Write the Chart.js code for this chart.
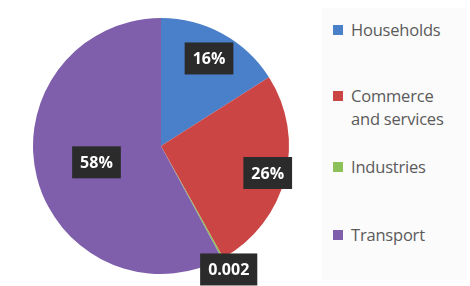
<!DOCTYPE html>
<html>
<head>
<meta charset="utf-8">
<script src="https://cdn.jsdelivr.net/npm/chart.js@4"></script>
<style>
  html, body { margin: 0; padding: 0; background: #ffffff; }
  #wrap { position: relative; width: 470px; height: 286px; }
  #pie { position: absolute; left: 0; top: 0; }
  #legend {
    position: absolute; left: 322px; top: 8px; width: 144px; height: 272px;
    background: #fbfbfb; font-family: "Open Sans", sans-serif; font-size: 16.5px;
    color: #5a5a5a;
  }
  .item { position: absolute; left: 11px; display: flex; align-items: flex-start; line-height: 23px; letter-spacing: -0.2px; }
  .sw { width: 10px; height: 10px; margin: 7px 8px 0 0; flex: none; }
</style>
</head>
<body>
<div id="wrap">
  <canvas id="pie" width="470" height="286"></canvas>
  <div id="legend"></div>
</div>
<script>
// Données
const labels = ['Households', 'Commerce and services', 'Industries', 'Transport'];
const legendLines = [['Households'], ['Commerce', 'and services'], ['Industries'], ['Transport']];
const values = [16, 26, 0.2, 58];
const valueTexts = ['16%', '26%', '0.002', '58%'];
const colors = ['#4a7fc9', '#cc4545', '#8cc058', '#7f5fab'];

// Style des étiquettes
const labelRadius = [0.78, 0.86, 1.1, 0.52];
const legendTops = [10, 76, 147, 215];

// Etiquettes sur les parts
const sliceLabels = {
  id: 'sliceLabels',
  afterDatasetsDraw(chart) {
    const ctx = chart.ctx;
    const meta = chart.getDatasetMeta(0);
    ctx.save();
    ctx.font = 'bold 16px "Open Sans", sans-serif';
    ctx.textAlign = 'center';
    ctx.textBaseline = 'middle';
    meta.data.forEach((arc, i) => {
      const mid = (arc.startAngle + arc.endAngle) / 2;
      const r = arc.outerRadius * labelRadius[i];
      const x = arc.x + Math.cos(mid) * r;
      const y = arc.y + Math.sin(mid) * r;
      const w = ctx.measureText(valueTexts[i]).width + 16;
      const h = 32;
      ctx.fillStyle = '#2b2b2b';
      ctx.fillRect(x - w / 2, y - h / 2, w, h);
      ctx.fillStyle = '#ffffff';
      ctx.fillText(valueTexts[i], x, y + 1);
    });
    ctx.restore();
  }
};

new Chart(document.getElementById('pie'), {
  type: 'pie',
  data: {
    labels: labels,
    datasets: [{
      data: values,
      backgroundColor: colors,
      borderWidth: 0
    }]
  },
  options: {
    responsive: false,
    animation: false,
    layout: { padding: { left: 33, top: 17, bottom: 11, right: 181 } },
    plugins: { legend: { display: false }, tooltip: { enabled: false } }
  },
  plugins: [sliceLabels]
});

// Légende HTML
const legend = document.getElementById('legend');
labels.forEach((lab, i) => {
  const div = document.createElement('div');
  div.className = 'item';
  div.style.top = legendTops[i] + 'px';
  div.innerHTML = `<span class="sw" style="background:${colors[i]}"></span><span>${legendLines[i].join('<br>')}</span>`;
  legend.appendChild(div);
});
</script>
</body>
</html>
